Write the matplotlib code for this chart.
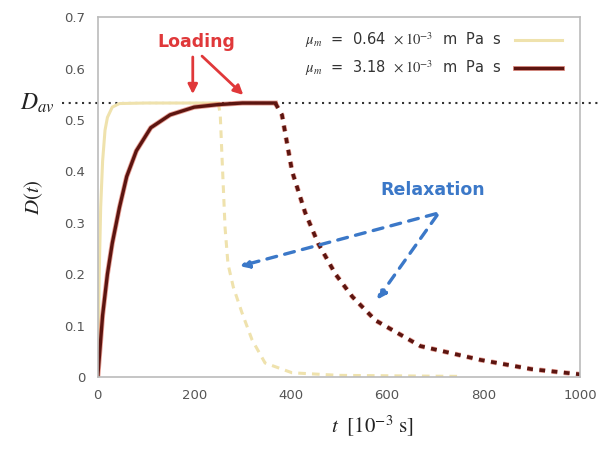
import numpy as np
import matplotlib.pyplot as plt
import matplotlib.patheffects as pe

plt.rcParams['mathtext.fontset'] = 'stix'

# --- data -------------------------------------------------------------
D_av = 0.533

# mu_m = 0.64e-3 : loading (solid) and relaxation (dashed)
t_fast_load = [0, 3, 6, 10, 15, 20, 30, 45, 100, 200, 250]
D_fast_load = [0.0, 0.20, 0.33, 0.42, 0.48, 0.505, 0.525, 0.532, 0.533, 0.533, 0.533]
t_fast_relax = [250, 254, 258, 264, 270, 281, 299, 320, 347, 403, 500, 750]
D_fast_relax = [0.533, 0.51, 0.42, 0.29, 0.22, 0.175, 0.125, 0.072, 0.027, 0.008, 0.003, 0.001]

# mu_m = 3.18e-3 : loading (solid) and relaxation (dashed)
t_slow_load = [0, 10, 20, 30, 45, 60, 80, 110, 150, 200, 250, 300, 368]
D_slow_load = [0.0, 0.12, 0.20, 0.26, 0.33, 0.39, 0.44, 0.485, 0.51, 0.525, 0.53, 0.533, 0.533]
t_slow_relax = [368, 382, 403, 430, 457, 493, 528, 576, 669, 794, 900, 1000]
D_slow_relax = [0.533, 0.51, 0.40, 0.32, 0.26, 0.20, 0.156, 0.11, 0.06, 0.033, 0.015, 0.005]

labels = [r'$\mu_m$  =  0.64  $\times\,10^{-3}$  m  Pa  s',
          r'$\mu_m$  =  3.18  $\times\,10^{-3}$  m  Pa  s']

c_fast = '#efe2ad'
c_slow = '#5c1510'
c_halo = '#d0402c'

# --- plot -------------------------------------------------------------
fig = plt.figure(figsize=(6.15, 4.53), dpi=100)
ax = fig.add_axes([0.159, 0.168, 0.784, 0.794])

halo = [pe.Stroke(linewidth=3.6, foreground=c_halo, alpha=0.5), pe.Normal()]

ax.plot(t_fast_load, D_fast_load, color=c_fast, lw=2.2, label=labels[0])
ax.plot(t_fast_relax, D_fast_relax, color=c_fast, lw=2.2, ls=(0, (2.5, 2)))

ax.plot(t_slow_load, D_slow_load, color=c_slow, lw=2.4, label=labels[1],
        path_effects=halo)
ax.plot(t_slow_relax, D_slow_relax, color=c_slow, lw=2.6, ls=(0, (1.6, 1.8)),
        path_effects=halo)

# average value line, running past the axes
ax.axhline(D_av, xmin=-0.075, xmax=1.04, color='#333333', lw=1.5,
           ls=(0, (1, 2.2)), clip_on=False, zorder=1)
ax.text(-0.09, D_av, r'$D_{av}$', transform=ax.get_yaxis_transform(),
        ha='right', va='center', fontsize=17, color='#222222')

# annotations
ax.text(204, 0.652, 'Loading', color='#e0383a', fontsize=12.5,
        fontweight='bold', ha='center', va='center')
red = dict(arrowstyle='-|>', color='#e0383a', lw=2, mutation_scale=14)
ax.annotate('', xy=(197, 0.545), xytext=(197, 0.628), arrowprops=red)
ax.annotate('', xy=(306, 0.545), xytext=(212, 0.628), arrowprops=red)

ax.text(694, 0.364, 'Relaxation', color='#3b78c8', fontsize=12.5,
        fontweight='bold', ha='center', va='center')
blue = dict(arrowstyle='-|>', color='#3b78c8', lw=2.4, ls=(0, (3, 2.5)),
            mutation_scale=13)
ax.annotate('', xy=(289, 0.214), xytext=(707, 0.319), arrowprops=blue)
ax.annotate('', xy=(576, 0.146), xytext=(707, 0.319), arrowprops=blue)

ax.set_xlim(0, 1000)
ax.set_ylim(0, 0.7)
ax.set_xticks([0, 200, 400, 600, 800, 1000])
ax.set_yticks([0, 0.1, 0.2, 0.3, 0.4, 0.5, 0.6, 0.7])
ax.set_yticklabels(['0', '0.1', '0.2', '0.3', '0.4', '0.5', '0.6', '0.7'])
ax.tick_params(length=0, pad=9, labelsize=9.5, labelcolor='#555555')
for s in ax.spines.values():
    s.set_color('#bbbbbb')
    s.set_linewidth(1.2)

ax.set_ylabel(r'$D(t)$', fontsize=15, labelpad=14, color='#222222')
ax.set_xlabel(r'$t\ \ [10^{-3}\ \mathrm{s}]$', fontsize=15, color='#222222',
              labelpad=10)
ax.xaxis.set_label_coords(0.57, -0.1)

leg = ax.legend(loc='upper right', bbox_to_anchor=(0.99, 1.0), frameon=False,
                markerfirst=False, fontsize=10.5, handlelength=3.2,
                labelspacing=0.6, borderaxespad=0.5, handletextpad=0.9)
for t in leg.get_texts():
    t.set_color('#333333')

fig.savefig('out.png', dpi=100)
